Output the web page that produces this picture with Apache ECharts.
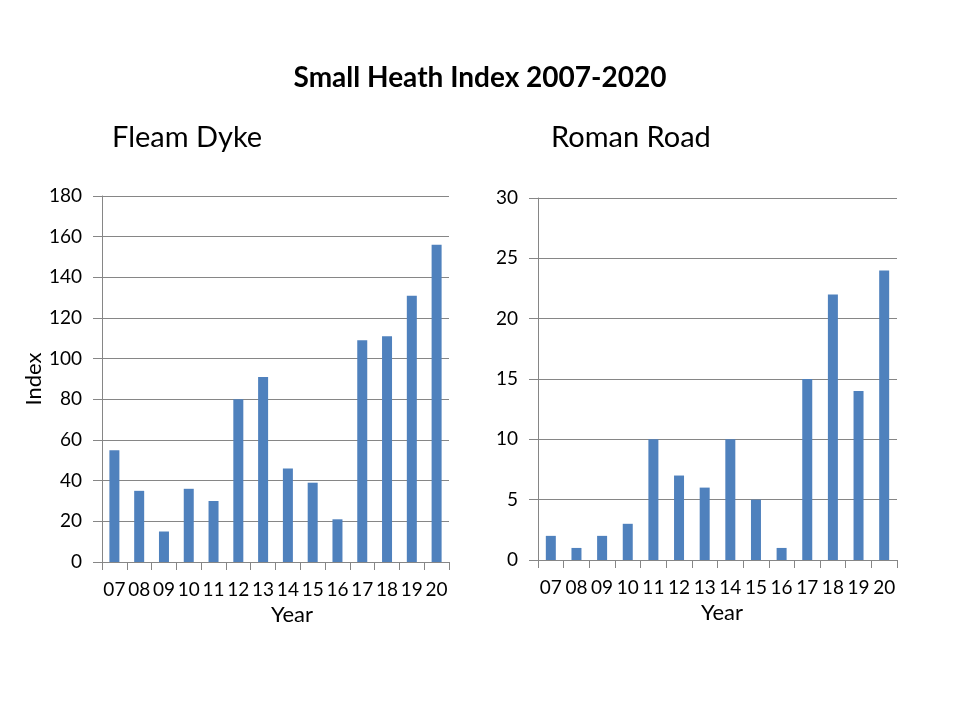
<!DOCTYPE html>
<html>
<head>
<meta charset="utf-8">
<script src="https://cdn.jsdelivr.net/npm/echarts@6/dist/echarts.min.js"></script>
<style>
html,body{margin:0;padding:0;background:#fff;}
#chart{width:960px;height:720px;}
</style>
</head>
<body>
<div id="chart"></div>
<script>
const years = ['07','08','09','10','11','12','13','14','15','16','17','18','19','20'];
const fleamDyke = [55,35,15,36,30,80,91,46,39,21,109,111,131,156];
const romanRoad = [2,1,2,3,10,7,6,10,5,1,15,22,14,24];
const mainTitle = 'Small Heath Index 2007-2020';
const leftTitle = 'Fleam Dyke';
const rightTitle = 'Roman Road';

const FONT = 'Lato, "Open Sans", sans-serif';
const GREY = '#868686';
const BAR = '#4F81BD';

function xAxisFor(idx){
  return {
    type:'category', gridIndex:idx, data:years,
    axisLine:{lineStyle:{color:GREY,width:1}},
    axisTick:{show:true, length:8, alignWithLabel:false, lineStyle:{color:GREY}},
    axisLabel:{color:'#000', fontSize:19, fontFamily:FONT, margin:18, interval:0},
    name:'Year', nameLocation:'middle', nameGap:idx===0?40:42,
    nameTextStyle:{color:'#000', fontSize:22, fontFamily:FONT, padding:[0,0,0,idx===0?33:9]}
  };
}
function yAxisFor(idx, max, interval, name){
  return {
    type:'value', gridIndex:idx, min:0, max:max, interval:interval,
    axisLine:{show:true, lineStyle:{color:GREY,width:1}},
    axisTick:{show:true, length:9, lineStyle:{color:GREY}},
    splitLine:{show:true, lineStyle:{color:GREY,width:1}},
    axisLabel:{color:'#000', fontSize:19, fontFamily:FONT, margin:20},
    name:name, nameLocation:'middle', nameGap:56, nameRotate:90,
    nameTextStyle:{color:'#000', fontSize:22, fontFamily:FONT}
  };
}

const chart = echarts.init(document.getElementById('chart'));
chart.setOption({
  backgroundColor:'#fff',
  animation:false,
  title:[
    {text:mainTitle, left:'center', top:59, textStyle:{fontFamily:FONT, fontSize:28, fontWeight:'bold', color:'#000'}},
    {text:leftTitle, left:107, top:118, textStyle:{fontFamily:FONT, fontSize:29, fontWeight:'normal', color:'#000'}},
    {text:rightTitle, left:546, top:118, textStyle:{fontFamily:FONT, fontSize:29, fontWeight:'normal', color:'#000'}}
  ],
  grid:[
    {left:102, right:511, top:196, bottom:158},
    {left:538, right:63, top:198, bottom:160}
  ],
  xAxis:[xAxisFor(0), xAxisFor(1)],
  yAxis:[yAxisFor(0,180,20,'Index'), yAxisFor(1,30,5,'')],
  series:[
    {type:'bar', xAxisIndex:0, yAxisIndex:0, data:fleamDyke, barWidth:10, itemStyle:{color:BAR}},
    {type:'bar', xAxisIndex:1, yAxisIndex:1, data:romanRoad, barWidth:10, itemStyle:{color:BAR}}
  ]
});
</script>
</body>
</html>
